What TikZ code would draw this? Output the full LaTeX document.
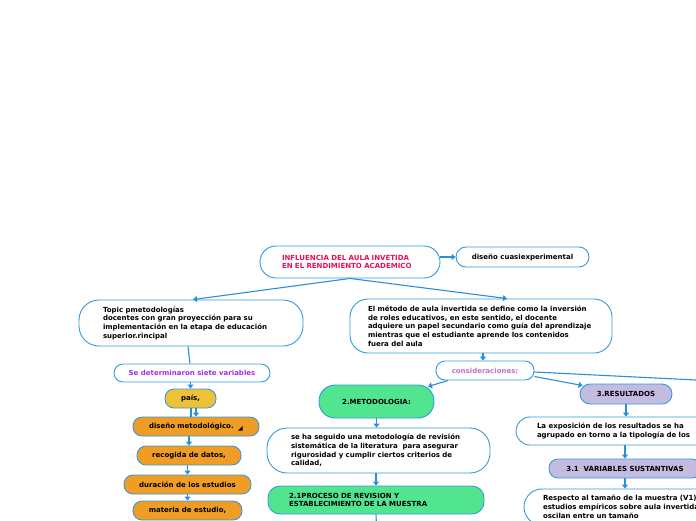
\documentclass[tikz,border=0pt]{standalone}
\usepackage{fontspec}
\setmainfont{DejaVu Sans}
\usetikzlibrary{arrows.meta}
\definecolor{bl}{HTML}{3399DD}
\definecolor{arrc}{HTML}{2590E0}
\definecolor{mag}{HTML}{E5105C}
\definecolor{purp}{HTML}{A030E0}
\definecolor{orch}{HTML}{C070C8}
\definecolor{yel}{HTML}{EEC236}
\definecolor{ora}{HTML}{EF9D25}
\definecolor{grn}{HTML}{52E58F}
\definecolor{lav}{HTML}{C3BBE0}
\tikzset{
  box/.style={draw=bl, line width=0.9pt, fill=white, inner sep=0pt, font=\fontsize{7}{8.7}\selectfont\bfseries},
  arr/.style={draw=arrc, line width=1.1pt, -{Triangle[width=6pt,length=4pt]}},
  ln/.style={draw=arrc, line width=1.1pt},
}
\begin{document}
\begin{tikzpicture}[x=1pt,y=-1pt]
\useasboundingbox (0,0) rectangle (696,520);
\clip (0,0) rectangle (696,520);
% nodes
\node[box, rounded corners=16, minimum width=180, minimum height=32, text width=136, align=left, text=mag] (main) at (350,262) {INFLUENCIA DEL AULA INVETIDA\\EN EL RENDIMIENTO ACADEMICO};
\node[box, rounded corners=10, minimum width=133, minimum height=20] (dis) at (522.5,257) {diseño cuasiexperimental};
\node[box, rounded corners=20, minimum width=224, minimum height=46, text width=176, align=left] (topic) at (191,323) {Topic pmetodologías\\docentes con gran proyección para su\\implementación en la etapa de educación\\superior.rincipal};
\node[box, rounded corners=18, minimum width=262, minimum height=54, text width=226, align=left] (method) at (481,326) {El método de aula invertida se define como la inversión\\de roles educativos, en este sentido, el docente\\adquiere un papel secundario como guía del aprendizaje\\mientras que el estudiante aprende los contenidos\\fuera del aula};
\node[box, rounded corners=9, minimum width=156, minimum height=18, text=purp] (sdv) at (192,373) {Se determinaron siete variables};
\node[box, rounded corners=9, minimum width=51, minimum height=19, fill=yel] (pais) at (190.5,398.5) {país,};
\node[box, rounded corners=9, minimum width=126, minimum height=19, fill=ora, text width=110, align=left] (diseno) at (196,426.5) {\hspace*{8pt}diseño metodológico.};
\node[box, rounded corners=9, minimum width=104, minimum height=19, fill=ora] (recog) at (189,455.5) {recogida de datos,};
\node[box, rounded corners=9, minimum width=127, minimum height=19, fill=ora] (dur) at (187.5,484.5) {duración de los estudios};
\node[box, rounded corners=9, minimum width=109, minimum height=19, fill=ora] (mat) at (187.5,510.5) {materia de estudio,};
\node[box, rounded corners=9, minimum width=98, minimum height=19, text=orch] (cons) at (485,370.5) {consideraciones:};
\node[box, rounded corners=16, minimum width=115, minimum height=33, fill=grn] (met2) at (376.5,401.5) {2.METODOLOGIA:};
\node[box, rounded corners=10, minimum width=92, minimum height=20, fill=lav] (res) at (626,394) {3.RESULTADOS};
\node[box, rounded corners=20, minimum width=223, minimum height=45, text width=175, align=left] (seg) at (378.5,450.5) {se ha seguido una metodología de revisión\\sistemática de la literatura \ para asegurar\\rigurosidad y cumplir ciertos criterios de\\calidad,};
\node[box, rounded corners=12, minimum width=216, minimum height=28, fill=grn, text width=174, align=left] (proc) at (376,500) {2.1PROCESO DE REVISION Y\\ESTABLECIMIENTO DE LA MUESTRA};
\node[box, rounded corners=14, minimum width=214, minimum height=28, text width=172, align=left] (expo) at (623,431) {La exposición de los resultados se ha\\agrupado en torno a la tipología de los};
\node[box, rounded corners=9, minimum width=152, minimum height=19, fill=lav] (var) at (625,468.5) {3.1 \ VARIABLES SUSTANTIVAS};
\node[box, rounded corners=18, minimum width=236, minimum height=36, text width=198, align=left] (resp) at (642,507) {Respecto al tamaño de la muestra (V1)\\estudios empíricos sobre aula invertida\\oscilan entre un tamaño};
\fill[black] (238,430.5) -- (242.5,430.5) -- (242.5,426) -- cycle;
% free ends
\coordinate (offr) at (720,381.2);
\coordinate (offb) at (377,540);
% connectors
\draw[arr] (main.east |- dis.west) -- (dis.west);
\draw[arr] (main.south) -- ([xshift=2]topic.north);
\draw[arr] (main.south) -- ([xshift=26]method.north);
\draw[ln] ([xshift=-3]topic.south) -- ([xshift=-2]sdv.north);
\draw[arr] (sdv.south -| pais.south) -- (pais.north);
\draw[ln] ([xshift=0.5]pais.south) -- ([xshift=0.5]pais.south |- diseno.north);
\draw[arr] ([xshift=5.5]pais.south) -- ([xshift=5.5]pais.south |- diseno.north);
\draw[arr] (diseno.south -| recog.south) -- (recog.north);
\draw[arr] (recog.south -| dur.south) -- (dur.north);
\draw[arr] (dur.south -| mat.south) -- (mat.north);
\draw[arr] ([xshift=2]method.south) -- ([xshift=-2]cons.north);
\draw[arr] ([xshift=-37]cons.south) -- ([xshift=51.5,yshift=-2]met2.north);
\draw[arr] ([yshift=-6]cons.east) -- ([xshift=3,yshift=-2]res.north west);
\draw[ln] ([yshift=-1.5]cons.east) -- (offr);
\draw[arr] (met2.south) -- (met2.south |- seg.north);
\draw[arr] (seg.south -| proc.north) -- (proc.north);
\draw[ln] (proc.south) -- (offb);
\draw[arr] (res.south) -- (res.south |- expo.north);
\draw[arr] (expo.south -| var.north) -- (var.north);
\draw[arr] (var.south) -- (var.south |- resp.north);
\end{tikzpicture}
\end{document}
